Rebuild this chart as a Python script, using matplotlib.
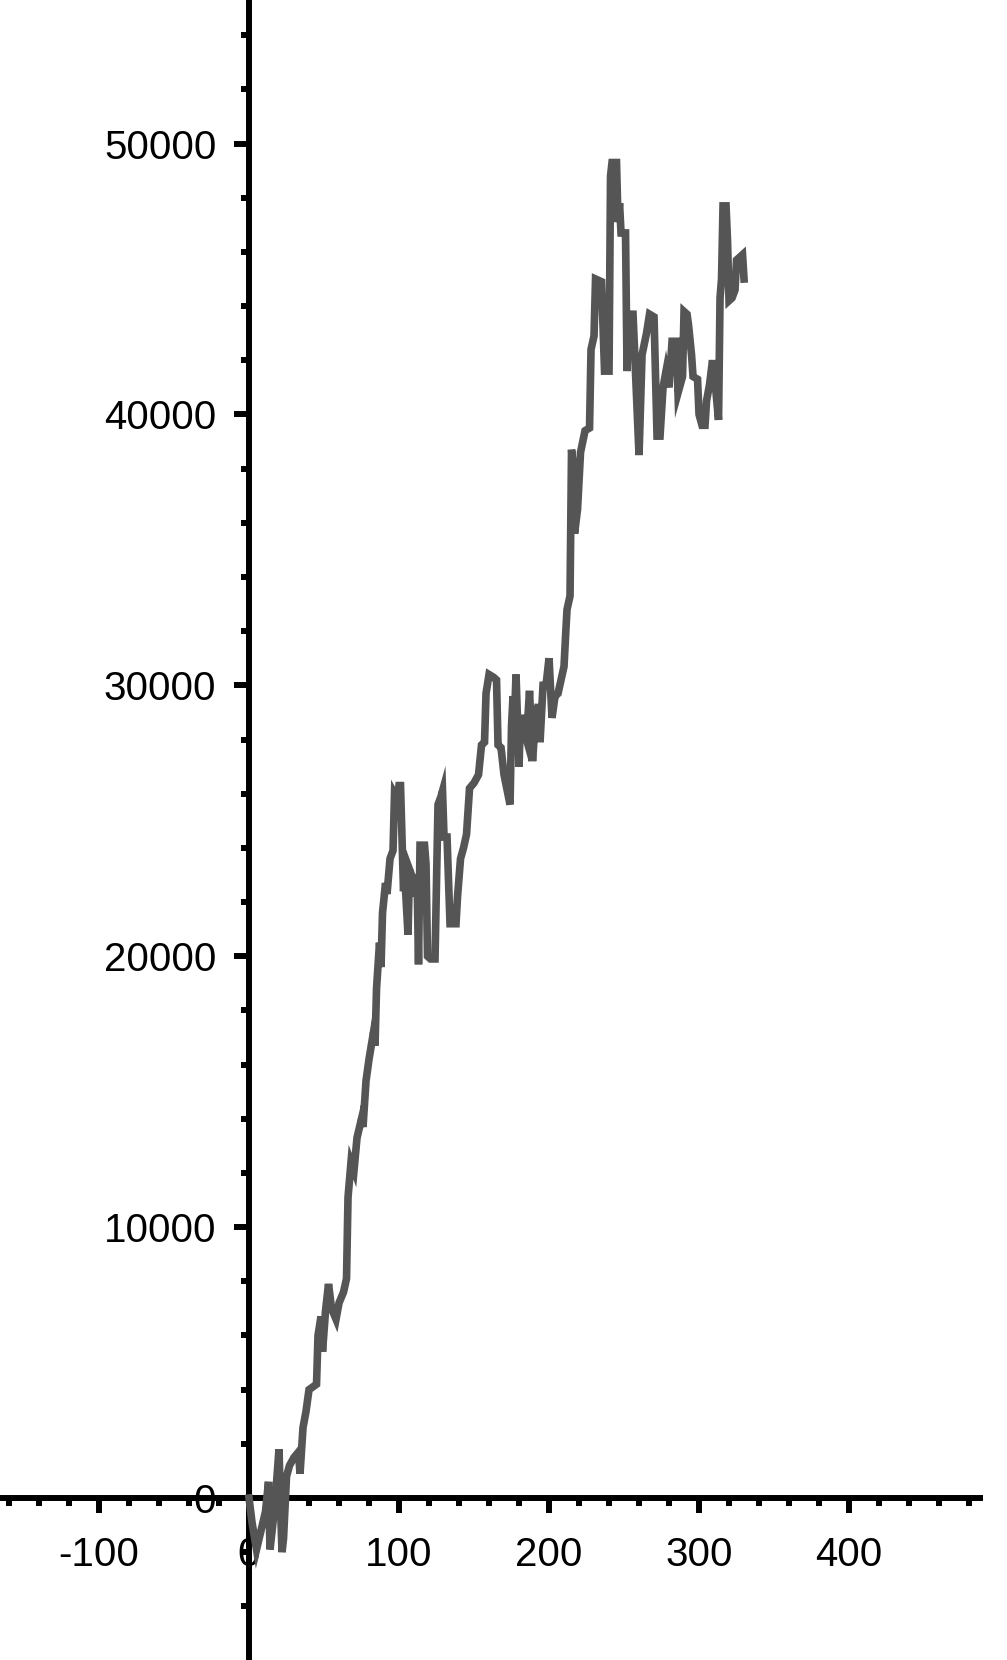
import matplotlib
matplotlib.use("Agg")
import matplotlib.pyplot as plt
from matplotlib.ticker import FixedLocator

plt.rcParams['font.family'] = ['Liberation Sans', 'DejaVu Sans']
plt.rcParams['axes.unicode_minus'] = False

# values (x, y)
days = [0, 2, 5, 8, 11, 13, 14, 16, 18, 20, 21, 22, 23, 25, 27, 30, 33, 34, 36, 38,
        40, 45, 46, 48, 49, 51, 53, 55, 58, 60, 63, 65, 66, 68, 70, 72, 75, 76, 78, 80,
        83, 84, 85, 87, 88, 89, 91, 92, 94, 96, 97, 99, 100, 101, 103, 104, 106, 107, 109, 110,
        112, 113, 114, 117, 118, 119, 121, 124, 126, 128, 129, 130, 132, 134, 138, 139, 141, 143, 145, 147,
        150, 153, 155, 157, 158, 160, 163, 165, 166, 168, 170, 174, 175, 176, 177, 178, 180, 181, 183, 185,
        187, 189, 191, 193, 194, 196, 198, 200, 202, 204, 206, 208, 210, 211, 212, 214, 215, 216, 217, 219,
        221, 224, 227, 228, 230, 231, 235, 237, 240, 241, 242, 245, 246, 247, 248, 251, 252, 253, 256, 260,
        262, 265, 267, 270, 272, 274, 276, 278, 280, 282, 285, 286, 289, 290, 292, 293, 295, 296, 299, 300,
        302, 304, 305, 307, 309, 311, 313, 314, 315, 316, 318, 319, 320, 322, 324, 325, 329, 330]
values = [0, -900, -1900, -1200, -500, 600, -1900, -900, 300, 1800, -300, -2000, -1500, 800, 1200, 1500, 1700, 900, 2600, 3200,
          4000, 4200, 6000, 6700, 5400, 6900, 7900, 7000, 6600, 7200, 7600, 8100, 11100, 12400, 12100, 13300, 14000, 13700, 15400, 16200,
          17200, 16700, 18800, 20500, 19600, 21600, 22700, 22300, 23600, 23900, 26000, 25800, 26300, 26300, 22400, 22800, 20800, 23200, 22900, 22200,
          23000, 19700, 24100, 24100, 23400, 20000, 19900, 19900, 25600, 25900, 26100, 24400, 24400, 21200, 21200, 22200, 23600, 24000, 24500, 26200,
          26400, 26700, 27800, 27900, 29700, 30400, 30300, 30200, 27800, 27700, 26700, 25600, 28500, 29600, 28800, 30400, 27000, 28900, 28400, 28000,
          29800, 27200, 28800, 29300, 27900, 30000, 30000, 31000, 28800, 29600, 29700, 30200, 30700, 31800, 32800, 33300, 38700, 38200, 35600, 36500,
          38600, 39400, 39500, 42400, 42900, 45000, 44900, 41600, 41600, 48800, 49300, 49300, 47100, 47800, 46700, 46700, 41600, 43700, 43700, 38500,
          42200, 43000, 43700, 43600, 39200, 39200, 41000, 41600, 41000, 42700, 42700, 40800, 41400, 43800, 43700, 43300, 42200, 41400, 41300, 40000,
          39600, 39600, 40500, 41100, 42000, 41000, 39800, 44300, 45000, 47700, 47700, 46400, 44200, 44300, 44600, 45700, 45900, 45000]

x_major = [-100, 0, 100, 200, 300, 400]
x_minor = list(range(-160, 481, 20))
y_major = [0, 10000, 20000, 30000, 40000, 50000]
y_minor = list(range(-4000, 54001, 2000))

fig = plt.figure(figsize=(10.07, 16.6), dpi=100)
ax = fig.add_axes([0, 0, 1, 1])

ax.plot(days, values, color='#555555', lw=5.5, solid_joinstyle='miter', zorder=3)

ax.set_xlim(-166, 505.3)
ax.set_ylim(-5980, 55300)

for s in ['top', 'right']:
    ax.spines[s].set_visible(False)
for s in ['left', 'bottom']:
    ax.spines[s].set_position(('data', 0))
    ax.spines[s].set_linewidth(4.3)
ax.spines['bottom'].set_bounds(-166, 487)

ax.xaxis.set_major_locator(FixedLocator(x_major))
ax.xaxis.set_minor_locator(FixedLocator([v for v in x_minor if v not in x_major]))
ax.yaxis.set_major_locator(FixedLocator(y_major))
ax.yaxis.set_minor_locator(FixedLocator([v for v in y_minor if v not in y_major]))

ax.tick_params(which='major', direction='out', length=10.5, width=4.3, labelsize=29)
ax.tick_params(which='minor', direction='out', length=5.5, width=4.3)
ax.tick_params(axis='x', which='major', pad=17)
ax.tick_params(axis='y', which='major', pad=13)

fig.savefig('out.png', dpi=100)
